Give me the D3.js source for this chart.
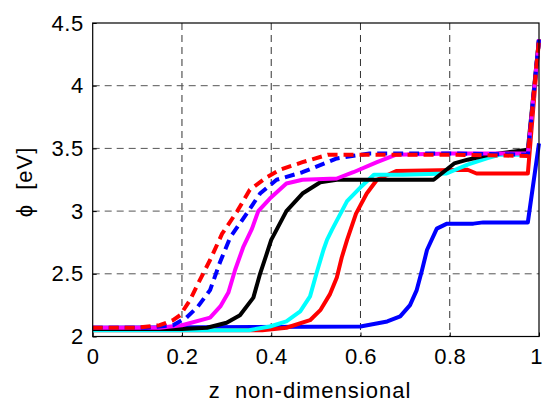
<!DOCTYPE html>
<html>
<head>
<meta charset="utf-8">
<script src="https://cdn.jsdelivr.net/npm/d3@7"></script>
<style>
  body { margin: 0; background: #fff; }
  text { font-family: "Liberation Sans", Arial, sans-serif; }
</style>
</head>
<body>
<div id="chart"></div>
<script>
// ticks
var xTicks = [0, 0.2, 0.4, 0.6, 0.8, 1];
var yTicks = [2, 2.5, 3, 3.5, 4, 4.5];

// series (z, phi)
var redDashX = [0, 0.1, 0.15, 0.18, 0.196, 0.218, 0.24, 0.263, 0.29, 0.324, 0.352, 0.39, 0.42, 0.47, 0.527, 0.6, 0.8, 0.975, 1.0];
var redDashY = [2.07, 2.07, 2.09, 2.13, 2.17, 2.29, 2.45, 2.61, 2.82, 3.0, 3.17, 3.27, 3.33, 3.39, 3.45, 3.45, 3.45, 3.44, 4.37];

var blueDashX = [0, 0.12, 0.18, 0.21, 0.236, 0.263, 0.285, 0.308, 0.345, 0.375, 0.412, 0.47, 0.547, 0.62, 0.8, 0.975, 1.0];
var blueDashY = [2.07, 2.07, 2.09, 2.15, 2.24, 2.37, 2.59, 2.79, 2.98, 3.14, 3.25, 3.31, 3.42, 3.46, 3.46, 3.45, 4.37];

var magentaX = [0, 0.15, 0.2, 0.263, 0.286, 0.304, 0.319, 0.337, 0.357, 0.371, 0.397, 0.434, 0.47, 0.547, 0.584, 0.637, 0.68, 0.8, 0.975, 1.0];
var magentaY = [2.07, 2.07, 2.09, 2.15, 2.24, 2.35, 2.53, 2.71, 2.86, 3.0, 3.1, 3.22, 3.25, 3.26, 3.31, 3.39, 3.45, 3.46, 3.46, 4.37];

var blackX = [0, 0.2, 0.256, 0.3, 0.33, 0.36, 0.375, 0.39, 0.4, 0.434, 0.47, 0.51, 0.547, 0.764, 0.81, 0.84, 0.89, 0.975, 1.0];
var blackY = [2.06, 2.06, 2.07, 2.11, 2.17, 2.31, 2.5, 2.66, 2.77, 3.0, 3.14, 3.23, 3.25, 3.25, 3.38, 3.41, 3.45, 3.49, 4.37];

var cyanX = [0, 0.35, 0.397, 0.434, 0.465, 0.487, 0.502, 0.517, 0.525, 0.536, 0.57, 0.6, 0.63, 0.695, 0.793, 0.84, 0.883, 0.913, 0.975, 1.0];
var cyanY = [2.05, 2.05, 2.08, 2.12, 2.2, 2.32, 2.51, 2.69, 2.77, 2.85, 3.08, 3.19, 3.29, 3.29, 3.3, 3.37, 3.42, 3.45, 3.45, 4.37];

var redX = [0, 0.38, 0.434, 0.487, 0.51, 0.532, 0.547, 0.558, 0.57, 0.59, 0.614, 0.637, 0.68, 0.84, 0.86, 0.975, 1.0];
var redY = [2.05, 2.05, 2.07, 2.13, 2.21, 2.34, 2.47, 2.63, 2.77, 2.98, 3.14, 3.25, 3.32, 3.33, 3.3, 3.3, 4.37];

var blueX = [0, 0.6, 0.66, 0.689, 0.711, 0.726, 0.738, 0.749, 0.771, 0.794, 0.853, 0.875, 0.975, 1.0];
var blueY = [2.07, 2.08, 2.12, 2.16, 2.25, 2.37, 2.53, 2.69, 2.86, 2.9, 2.9, 2.91, 2.91, 3.54];

// drawing order: first drawn is at the bottom
var series = [
  {xs: blueX, ys: blueY, color: "#0000ff", dash: null},
  {xs: redX, ys: redY, color: "#ff0000", dash: null},
  {xs: cyanX, ys: cyanY, color: "#00ffff", dash: null},
  {xs: blackX, ys: blackY, color: "#000000", dash: null},
  {xs: magentaX, ys: magentaY, color: "#ff00ff", dash: null},
  {xs: blueDashX, ys: blueDashY, color: "#0000ff", dash: "10,6"},
  {xs: redDashX, ys: redDashY, color: "#ff0000", dash: "10,6"}
];

var W = 544, H = 403;
var margin = {top: 23, right: 5, bottom: 66.5, left: 92.7};
var width = W - margin.left - margin.right,
    height = H - margin.top - margin.bottom;

var svg = d3.select("#chart")
  .append("svg")
    .attr("width", W)
    .attr("height", H)
  .append("g")
    .attr("transform", "translate(" + margin.left + "," + margin.top + ")");

var x = d3.scaleLinear().domain([0, 1]).range([0, width]);
var y = d3.scaleLinear().domain([2, 4.5]).range([height, 0]);

// grid
svg.append("g")
  .selectAll("line")
  .data(xTicks.slice(1, -1))
  .enter().append("line")
    .attr("x1", function(d) { return x(d); })
    .attr("x2", function(d) { return x(d); })
    .attr("y1", 0).attr("y2", height)
    .attr("stroke", "#333").attr("stroke-width", 1)
    .attr("stroke-dasharray", "7,5");
svg.append("g")
  .selectAll("line")
  .data(yTicks.slice(1, -1))
  .enter().append("line")
    .attr("y1", function(d) { return y(d); })
    .attr("y2", function(d) { return y(d); })
    .attr("x1", 0).attr("x2", width)
    .attr("stroke", "#555").attr("stroke-width", 1)
    .attr("stroke-dasharray", "7,5");

// axes with inward ticks
var xAxis = svg.append("g")
  .attr("transform", "translate(0," + height + ")")
  .call(d3.axisBottom(x).tickValues(xTicks).tickSize(-4).tickSizeOuter(0).tickPadding(12)
    .tickFormat(function(d) { return String(d); }));
var yAxis = svg.append("g")
  .call(d3.axisLeft(y).tickValues(yTicks).tickSize(-4).tickSizeOuter(0).tickPadding(9)
    .tickFormat(function(d) { return String(d); }));
[xAxis, yAxis].forEach(function(a) {
  a.select(".domain").remove();
  a.selectAll("line").attr("stroke", "#000");
  a.selectAll("text")
    .attr("fill", "#000")
    .style("font-size", "22px")
    .style("letter-spacing", "0.5px")
    .style("font-family", "'Liberation Sans', Arial, sans-serif");
});
// keep the last x label inside the picture
xAxis.selectAll(".tick text")
  .filter(function(d) { return d === 1; })
  .attr("dx", -3);

// lines
var line = d3.line()
  .x(function(d) { return x(d[0]); })
  .y(function(d) { return y(d[1]); });

series.forEach(function(s) {
  var pts = s.xs.map(function(v, i) { return [v, s.ys[i]]; });
  svg.append("path")
    .datum(pts)
    .attr("d", line)
    .attr("fill", "none")
    .attr("stroke", s.color)
    .attr("stroke-width", 4)
    .attr("stroke-linejoin", "round")
    .attr("stroke-dasharray", s.dash);
});

// box
svg.append("rect")
  .attr("x", 0).attr("y", 0)
  .attr("width", width).attr("height", height)
  .attr("fill", "none")
  .attr("stroke", "#000")
  .attr("stroke-width", 1.2);

// labels
svg.append("text")
  .attr("x", 310 - margin.left)
  .attr("y", 398 - margin.top)
  .attr("text-anchor", "middle")
  .style("font-size", "22px")
  .style("letter-spacing", "1px")
  .style("white-space", "pre")
  .text("z  non-dimensional");

svg.append("text")
  .attr("transform", "translate(" + (32 - margin.left) + "," + (182 - margin.top) + ") rotate(-90)")
  .attr("text-anchor", "middle")
  .style("font-size", "22px")
  .style("letter-spacing", "1px")
  .style("white-space", "pre")
  .text("\u03D5  [eV]");
</script>
</body>
</html>
